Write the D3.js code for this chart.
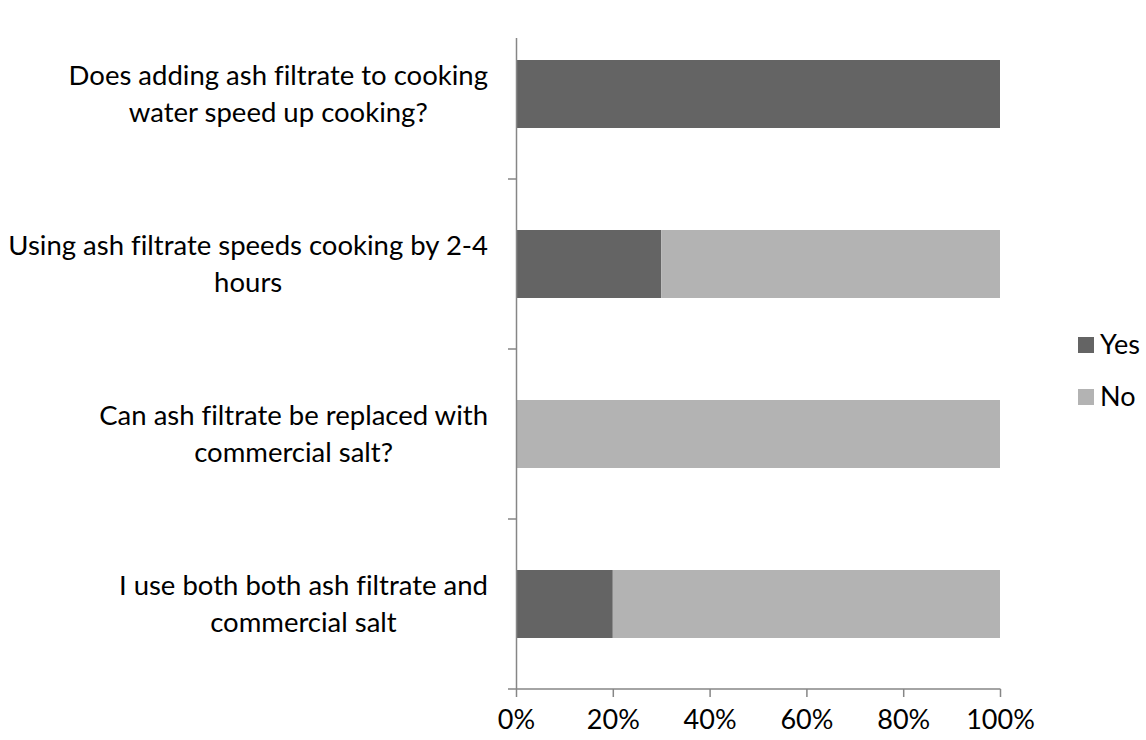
<!DOCTYPE html>
<html>
<head>
<meta charset="utf-8">
<script src="https://cdn.jsdelivr.net/npm/d3@7"></script>
<style>
  body { margin: 0; background: #fff; }
  svg text { font-family: Lato, "Open Sans", sans-serif; fill: #000; font-variant-ligatures: none; }
</style>
</head>
<body>
<svg id="chart" width="1146" height="740"></svg>
<script>
const categories = [
  ['Does adding ash filtrate to cooking', 'water speed up cooking?'],
  ['Using ash filtrate speeds cooking by 2-4', 'hours'],
  ['Can ash filtrate be replaced with', 'commercial salt?'],
  ['I use both both ash filtrate and', 'commercial salt']
];
const yesValues = [100, 30, 0, 20];
const noValues = [0, 70, 100, 80];
const seriesNames = ['Yes', 'No'];
const xTicks = [0, 20, 40, 60, 80, 100];

const svg = d3.select('#chart');
const colors = { Yes: '#646464', No: '#b3b3b3' };
const axisColor = '#868686';

const x = d3.scaleLinear().domain([0, 100]).range([516, 1000]);
const y = d3.scaleBand().domain(d3.range(categories.length)).range([9, 689]).paddingInner(0.6).paddingOuter(0.3);

const rows = categories.map((c, i) => ({ i, Yes: yesValues[i], No: noValues[i] }));
const stack = d3.stack().keys(seriesNames)(rows);

svg.append('g').selectAll('g')
  .data(stack)
  .join('g')
  .attr('fill', d => colors[d.key])
  .selectAll('rect')
  .data(d => d)
  .join('rect')
  .attr('x', d => x(d[0]))
  .attr('width', d => x(d[1]) - x(d[0]))
  .attr('y', d => y(d.data.i))
  .attr('height', y.bandwidth());

// vertical axis line + ticks between categories
const step = y.step();
svg.append('line')
  .attr('x1', 516.5).attr('x2', 516.5)
  .attr('y1', 38).attr('y2', 689)
  .attr('stroke', axisColor).attr('stroke-width', 1.5);
const bounds = d3.range(1, categories.length).map(i => y(i) - y.paddingInner() * step / 2);
svg.append('g').selectAll('line')
  .data(bounds)
  .join('line')
  .attr('x1', 508).attr('x2', 516)
  .attr('y1', d => d).attr('y2', d => d)
  .attr('stroke', axisColor).attr('stroke-width', 1.5);

// horizontal axis
const xAxis = svg.append('g')
  .attr('transform', 'translate(0,689)')
  .call(d3.axisBottom(x).tickValues(xTicks).tickFormat(d => d + '%').tickSize(8).tickPadding(13));
xAxis.select('.domain').remove();
xAxis.selectAll('.tick line').attr('stroke', axisColor).attr('stroke-width', 1.5);
xAxis.selectAll('.tick text').attr('font-size', 27).attr('fill', '#000')
  .style('font-family', 'Lato, "Open Sans", sans-serif');
svg.append('line')
  .attr('x1', 508).attr('x2', 1000.5)
  .attr('y1', 689).attr('y2', 689)
  .attr('stroke', axisColor).attr('stroke-width', 1.5);

// category labels: lines centred in a block right-aligned at 488
const labelSize = 27.5;
categories.forEach((lines, i) => {
  const cy = y(i) + y.bandwidth() / 2;
  const t = svg.append('text').attr('font-size', labelSize).attr('text-anchor', 'middle');
  const spans = lines.map(l => t.append('tspan').text(l));
  const widths = spans.map(s => s.node().getComputedTextLength());
  const w = d3.max(widths);
  const cx = 488 - w / 2;
  const lh = 37;
  spans.forEach((s, k) => {
    s.attr('x', cx).attr('y', cy + (k - (lines.length - 1) / 2) * lh + 9);
  });
});

// legend
const legend = svg.append('g').selectAll('g')
  .data(seriesNames)
  .join('g')
  .attr('transform', (d, i) => `translate(1078,${337 + i * 52})`);
legend.append('rect').attr('width', 16).attr('height', 16).attr('fill', d => colors[d]);
legend.append('text').attr('x', 22).attr('y', 17).attr('font-size', 27).text(d => d);
</script>
</body>
</html>
